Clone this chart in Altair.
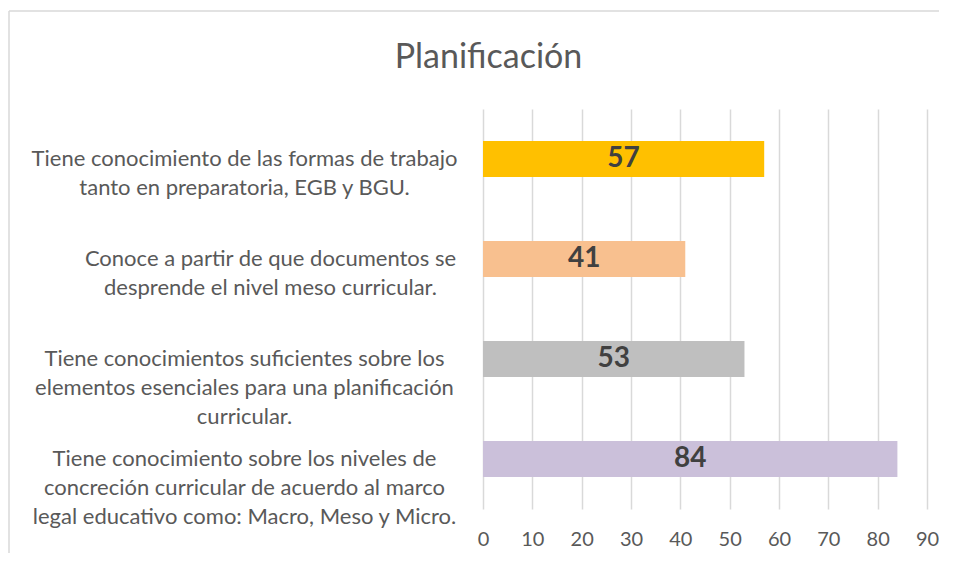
import altair as alt
import pandas as pd

categories = [
    "Tiene conocimiento de las formas de trabajo|tanto en preparatoria, EGB y BGU.",
    "Conoce a partir de que documentos se|desprende el nivel meso curricular.",
    "Tiene conocimientos suficientes sobre los|elementos esenciales para una planificación|curricular.",
    "Tiene conocimiento sobre los niveles de|concreción curricular de acuerdo al marco|legal educativo como: Macro, Meso y Micro.",
]
values = [57, 41, 53, 84]
colors = ["#FFC000", "#F8C08F", "#BFBFBF", "#CBC0DA"]
tick_values = [0, 10, 20, 30, 40, 50, 60, 70, 80, 90]
title_text = "Planificación"

df = pd.DataFrame({"cat": categories, "value": values, "color": colors})

y_enc = alt.Y(
    "cat:N",
    sort=None,
    scale=alt.Scale(paddingInner=0.64, paddingOuter=0.32),
    axis=alt.Axis(
        title=None,
        domain=False,
        ticks=False,
        grid=False,
        labelAlign="center",
        labelBaseline="middle",
        labelLineHeight=29,
        labelFont="Lato",
        labelFontSize=22,
        labelColor="#595959",
        labelLimit=0,
        labelPadding={"condition": {"test": "indexof(datum.value, 'Conoce') == 0", "value": 213}, "value": 239},
        labelExpr="split(datum.label, '|')",
    ),
)

x_enc = alt.X(
    "value:Q",
    scale=alt.Scale(domain=[0, 90], nice=False),
    axis=alt.Axis(
        title=None,
        values=tick_values,
        domain=False,
        ticks=False,
        grid=True,
        gridColor="#D9D9D9",
        gridWidth=1.5,
        labelFont="Lato",
        labelFontSize=20,
        labelColor="#595959",
        labelPadding=20,
        labelFlush=False,
    ),
)

bars = alt.Chart(df).mark_bar().encode(
    x=x_enc,
    y=y_enc,
    color=alt.Color("color:N", scale=None),
)

labels = alt.Chart(df).transform_calculate(mid="datum.value / 2").mark_text(
    font="Lato", fontSize=28, fontWeight="bold", color="#404040", baseline="middle", align="center"
).encode(
    x=alt.X("mid:Q"),
    y=alt.Y("cat:N", sort=None),
    text=alt.Text("value:Q"),
)

frame_df = pd.DataFrame({"f": [0]})
frame_top = alt.Chart(frame_df).mark_rule(
    stroke="#D9D9D9", strokeWidth=1.5
).encode(
    x=alt.value(-474), x2=alt.value(700), y=alt.value(-98)
)
frame_left = alt.Chart(frame_df).mark_rule(
    stroke="#D9D9D9", strokeWidth=1.5
).encode(
    x=alt.value(-474), y=alt.value(-98), y2=alt.value(700)
)

title = alt.Chart(pd.DataFrame({"t": [title_text]})).mark_text(
    font="Lato", fontSize=34, color="#595959", align="center", baseline="alphabetic"
).encode(
    x=alt.value(5.5), y=alt.value(-41), text="t:N"
)

chart = alt.layer(frame_top, frame_left, bars, labels, title).properties(
    width=444,
    height=400,
    autosize=alt.AutoSizeParams(type="none"),
    padding={"left": 475, "top": 101, "right": 12, "bottom": 44},
    background="white",
).configure_view(stroke=None)

chart.save("out.html", embed_options={"renderer": "svg", "actions": False})
